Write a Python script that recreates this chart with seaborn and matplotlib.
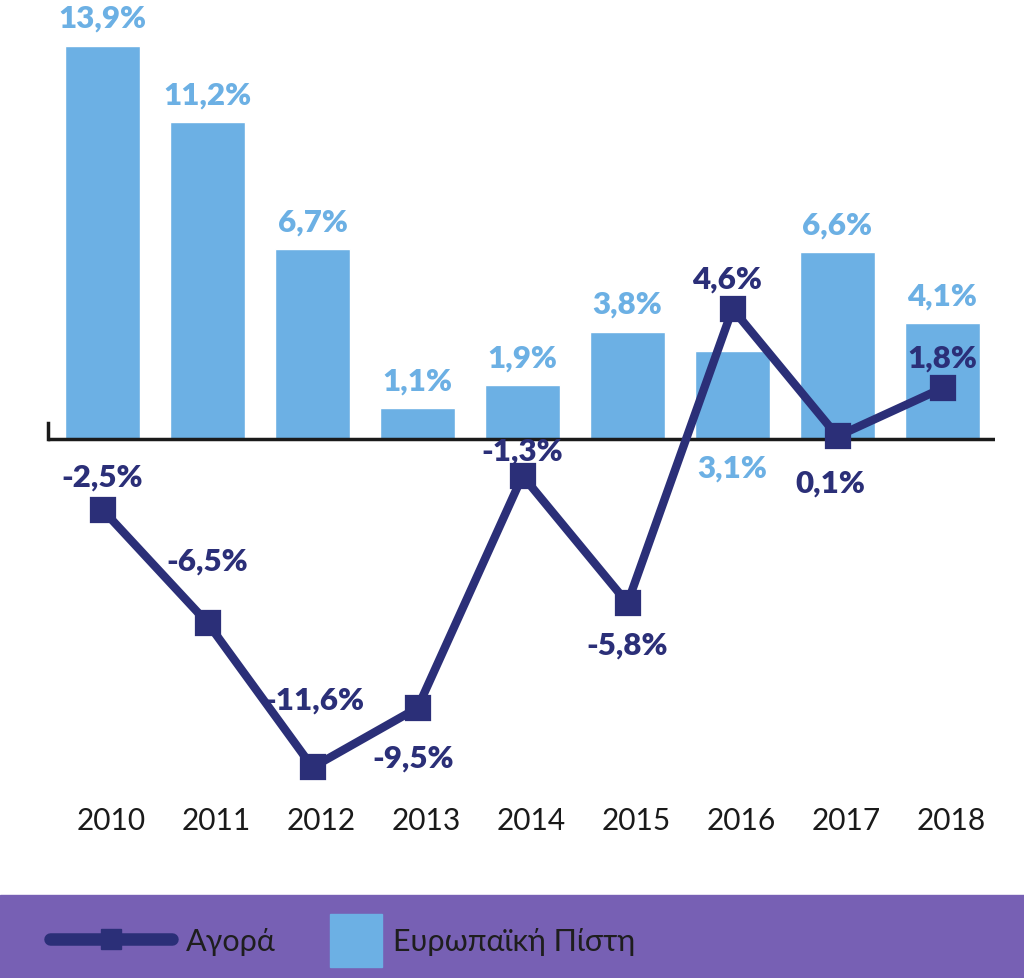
import numpy as np
import pandas as pd
import matplotlib.pyplot as plt
import seaborn as sns
from matplotlib.lines import Line2D
from matplotlib.patches import Patch, Rectangle
from matplotlib.transforms import ScaledTranslation

years = ['2010', '2011', '2012', '2013', '2014', '2015', '2016', '2017', '2018']
pistis = [13.9, 11.2, 6.7, 1.1, 1.9, 3.8, 3.1, 6.6, 4.1]
agora = [-2.5, -6.5, -11.6, -9.5, -1.3, -5.8, 4.6, 0.1, 1.8]

# label offsets in points (dx, dy)
bar_off = [(0, 20)] * 9
bar_off[6] = (0, -(3.1 * 28.3 + 28) / 1.389)
line_off = [(0, 24), (0, 45), (1, 49), (-3, -36), (0, 18), (0, -30), (-4, 22), (-5, -33), (0, 22)]

light = '#6cb0e4'
navy = '#2b2f78'
purple = '#7760b4'

df = pd.DataFrame({'year': years, 'pistis': pistis, 'agora': agora})

sns.set_style('white')
plt.rcParams['font.family'] = ['Lato', 'DejaVu Sans']

fig = plt.figure(figsize=(10.24, 9.79), dpi=100)
ax = fig.add_axes([48 / 1024, 1 - 800 / 979, 947 / 1024, 800 / 979])

sns.barplot(data=df, x='year', y='pistis', color=light, saturation=1, width=0.72, ax=ax, zorder=1)
sns.pointplot(data=df, x='year', y='agora', color=navy, markers='s', markersize=15,
              linewidth=6, errorbar=None, ax=ax, zorder=3)
for l in ax.lines:
    l.set_zorder(3)

ax.axhline(0, color='#1a1a1a', lw=2.5, zorder=2)
ax.set_ylim(-12.72, 15.55)
ax.set_xlim(-0.52, 8.5)
ax.set_xlabel('')
ax.set_ylabel('')
ax.set_yticks([])
for s in ['top', 'right', 'bottom']:
    ax.spines[s].set_visible(False)
ax.spines['left'].set_visible(True)
ax.spines['left'].set_color('#1a1a1a')
ax.spines['left'].set_linewidth(2.5)
ax.spines['left'].set_bounds(0, 0.55)
ax.tick_params(axis='x', length=0, pad=5, labelsize=21.5, colors='#1a1a1a')
for lab in ax.get_xticklabels():
    lab.set_transform(lab.get_transform() + ScaledTranslation(9 / 100, 0, fig.dpi_scale_trans))

for i, v in enumerate(pistis):
    ax.annotate(f'{v:.1f}%'.replace('.', ','), (i, v), xytext=bar_off[i], textcoords='offset points',
                ha='center', va='center', fontsize=22.5, fontweight='heavy', color=light, zorder=4)
for i, v in enumerate(agora):
    ax.annotate(f'{v:.1f}%'.replace('.', ','), (i, v), xytext=line_off[i], textcoords='offset points',
                ha='center', va='center', fontsize=22.5, fontweight='heavy', color=navy, zorder=4)

fig.add_artist(Rectangle((0, 0), 1, 83 / 979, transform=fig.transFigure, color=purple, zorder=0))

h1 = Line2D([], [], color=navy, lw=9, marker='s', markersize=15)
leg1 = fig.legend(handles=[h1], labels=['Αγορά'], loc='center left', bbox_to_anchor=(50 / 1024, 0.038),
                  frameon=False, fontsize=22, handlelength=4.0, handletextpad=0.45, borderpad=0, borderaxespad=0,
                  labelcolor='#1e1e1e')
h2 = Patch(color=light)
leg2 = fig.legend(handles=[h2], labels=['Ευρωπαϊκή Πίστη'], loc='center left', bbox_to_anchor=(330 / 1024, 0.038),
                  frameon=False, fontsize=22, handlelength=1.7, handleheight=2.3, handletextpad=0.36,
                  borderpad=0, borderaxespad=0, labelcolor='#1e1e1e')

fig.savefig('out.png', dpi=100)
